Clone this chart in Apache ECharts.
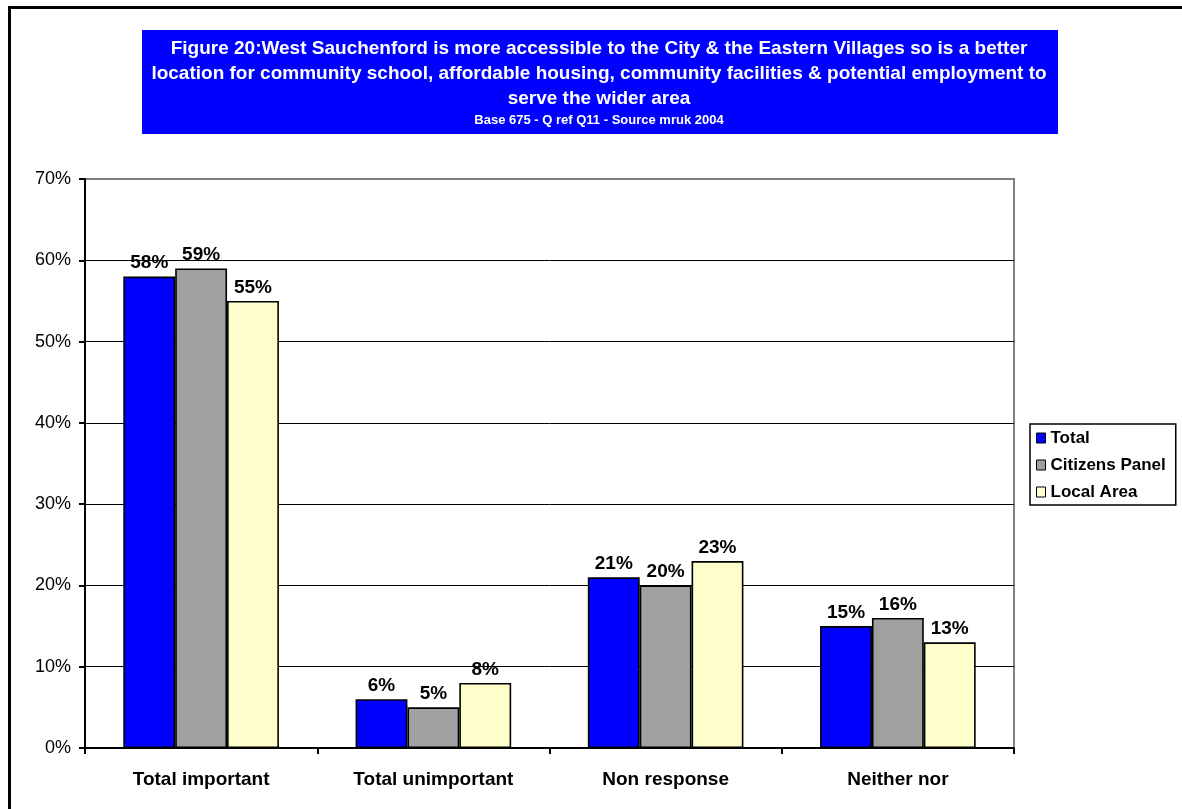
<!DOCTYPE html>
<html>
<head>
<meta charset="utf-8">
<script src="https://cdn.jsdelivr.net/npm/echarts@6/dist/echarts.min.js"></script>
<style>
  html, body { margin: 0; padding: 0; background: #fff; }
  #chart { width: 1182px; height: 809px; }
</style>
</head>
<body>
<div id="chart"></div>
<script>
// Survey answers, percent of respondents
const categories = ['Total important', 'Total unimportant', 'Non response', 'Neither nor'];
const totalValues = [58, 6, 21, 15];
const citizensPanelValues = [59, 5, 20, 16];
const localAreaValues = [55, 8, 23, 13];
const seriesNames = ['Total', 'Citizens Panel', 'Local Area'];

const titleLines = [
  'Figure 20:West Sauchenford is more accessible to the City & the Eastern Villages so is a better',
  'location for community school, affordable housing, community facilities & potential employment to',
  'serve the wider area'
];
const subtitle = 'Base 675 - Q ref Q11 - Source mruk 2004';

const FONT = '"Liberation Sans", Arial, sans-serif';
const colors = ['#0000FF', '#A0A0A0', '#FFFFCC'];

const chart = echarts.init(document.getElementById('chart'), null, { renderer: 'canvas' });

const titleGraphics = titleLines.map((t, i) => ({
  type: 'text',
  x: 599,
  y: 49 + i * 25,
  style: {
    text: t,
    fill: '#fff',
    font: 'bold 19px ' + FONT,
    textAlign: 'center',
    textVerticalAlign: 'middle'
  },
  z: 10
}));

function barSeries(name, data, color) {
  return {
    name: name,
    type: 'bar',
    data: data,
    barGap: '0%',
    barCategoryGap: '33%',
    itemStyle: { color: color, borderColor: '#000', borderWidth: 1.6 },
    label: {
      show: true,
      position: 'top',
      distance: 4,
      formatter: '{c}%',
      color: '#000',
      fontFamily: FONT,
      fontWeight: 'bold',
      fontSize: 19
    }
  };
}

chart.setOption({
  animation: false,
  color: colors,
  textStyle: { fontFamily: FONT },
  graphic: [
    { type: 'rect', shape: { x: 8, y: 6, width: 1174, height: 3 }, style: { fill: '#000' } },
    { type: 'rect', shape: { x: 8, y: 6, width: 3, height: 803 }, style: { fill: '#000' } },
    { type: 'rect', shape: { x: 142, y: 30, width: 916, height: 104 }, style: { fill: '#0000FF' }, z: 5 },
    ...titleGraphics,
    {
      type: 'text',
      x: 599,
      y: 120,
      style: {
        text: subtitle,
        fill: '#fff',
        font: 'bold 13px ' + FONT,
        textAlign: 'center',
        textVerticalAlign: 'middle'
      },
      z: 10
    }
  ],
  grid: {
    left: 85,
    right: 168,
    top: 179,
    bottom: 61,
    show: true,
    borderColor: '#808080',
    borderWidth: 2,
    containLabel: false
  },
  legend: {
    orient: 'vertical',
    left: 1030,
    top: 424,
    padding: [5, 10, 4, 6],
    itemGap: 9,
    itemWidth: 9,
    itemHeight: 10,
    icon: 'rect',
    borderColor: '#000',
    borderWidth: 1.5,
    data: seriesNames,
    itemStyle: { borderColor: '#000', borderWidth: 1 },
    textStyle: {
      color: '#000',
      fontFamily: FONT,
      fontWeight: 'bold',
      fontSize: 17,
      lineHeight: 18
    }
  },
  xAxis: {
    type: 'category',
    data: categories,
    axisLine: { show: true, lineStyle: { color: '#000', width: 2 } },
    axisTick: { show: true, length: 6, lineStyle: { color: '#000', width: 2 } },
    axisLabel: {
      margin: 22,
      color: '#000',
      fontFamily: FONT,
      fontWeight: 'bold',
      fontSize: 19
    },
    splitLine: { show: false }
  },
  yAxis: {
    type: 'value',
    min: 0,
    max: 70,
    interval: 10,
    axisLine: { show: true, lineStyle: { color: '#000', width: 2 } },
    axisTick: { show: true, length: 6, lineStyle: { color: '#000', width: 2 } },
    axisLabel: {
      formatter: '{value}%',
      margin: 14,
      color: '#000',
      fontFamily: FONT,
      fontSize: 18
    },
    splitLine: {
      show: true,
      lineStyle: {
        color: ['#000', '#000', '#000', '#000', '#000', '#000', '#000', '#808080'],
        width: 1
      }
    }
  },
  series: [
    barSeries(seriesNames[0], totalValues, colors[0]),
    barSeries(seriesNames[1], citizensPanelValues, colors[1]),
    barSeries(seriesNames[2], localAreaValues, colors[2])
  ]
});
</script>
</body>
</html>
